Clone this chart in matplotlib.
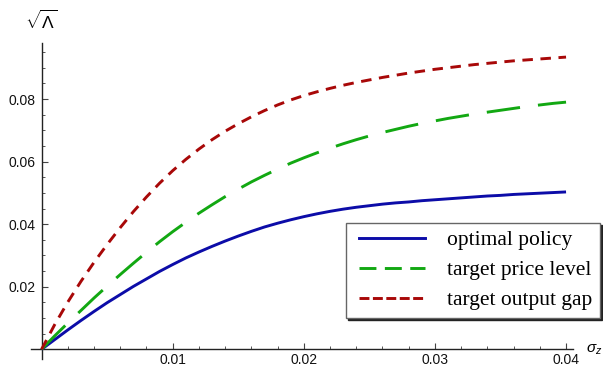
import matplotlib
matplotlib.use("Agg")
import matplotlib.pyplot as plt
from matplotlib.lines import Line2D
from matplotlib.legend_handler import HandlerLine2D
from matplotlib.ticker import MultipleLocator, FixedLocator

plt.rcParams['font.family'] = ['Liberation Sans', 'DejaVu Sans']
plt.rcParams['mathtext.fontset'] = 'custom'
plt.rcParams['mathtext.rm'] = 'Liberation Sans'
plt.rcParams['mathtext.it'] = 'Liberation Sans:italic'
plt.rcParams['mathtext.cal'] = 'Liberation Sans'

# ---- data ----
sigma_z = [0.000, 0.001, 0.002, 0.003, 0.004, 0.005, 0.006, 0.007, 0.008, 0.009,
           0.010, 0.011, 0.012, 0.013, 0.014, 0.015, 0.016, 0.017, 0.018, 0.019,
           0.020, 0.021, 0.022, 0.023, 0.024, 0.025, 0.026, 0.027, 0.028, 0.029,
           0.030, 0.031, 0.032, 0.033, 0.034, 0.035, 0.036, 0.037, 0.038, 0.039, 0.040]
optimal_policy = [0.0, 0.0031, 0.0062, 0.0092, 0.0121, 0.0149, 0.0175, 0.0201, 0.0225, 0.0249,
                  0.0271, 0.0292, 0.0311, 0.0329, 0.0346, 0.0362, 0.0377, 0.0391, 0.0403, 0.0414,
                  0.0424, 0.0433, 0.0441, 0.0448, 0.0454, 0.0459, 0.0464, 0.0468, 0.0471, 0.0475,
                  0.0478, 0.0481, 0.0484, 0.0487, 0.0490, 0.0492, 0.0495, 0.0497, 0.0499, 0.0501, 0.0503]
target_price_level = [0.0, 0.0043, 0.0084, 0.0124, 0.0164, 0.0202, 0.0239, 0.0275, 0.0310, 0.0344,
                      0.0376, 0.0406, 0.0435, 0.0462, 0.0488, 0.0512, 0.0535, 0.0556, 0.0576, 0.0595,
                      0.0612, 0.0628, 0.0643, 0.0657, 0.0670, 0.0682, 0.0693, 0.0703, 0.0713, 0.0722,
                      0.0730, 0.0738, 0.0745, 0.0752, 0.0758, 0.0764, 0.0770, 0.0776, 0.0781, 0.0786, 0.0790]
target_output_gap = [0.0, 0.0079, 0.0151, 0.0217, 0.0278, 0.0335, 0.0389, 0.0440, 0.0487, 0.0531,
                     0.0571, 0.0607, 0.0640, 0.0670, 0.0697, 0.0721, 0.0743, 0.0763, 0.0781, 0.0797,
                     0.0811, 0.0823, 0.0834, 0.0844, 0.0853, 0.0861, 0.0869, 0.0876, 0.0883, 0.0889,
                     0.0895, 0.0900, 0.0905, 0.0910, 0.0914, 0.0918, 0.0922, 0.0925, 0.0928, 0.0931, 0.0934]
series_labels = ["optimal policy", "target price level", "target output gap"]
x_ticks = [0.01, 0.02, 0.03, 0.04]
y_ticks = [0.02, 0.04, 0.06, 0.08]

W, H = 603, 367
fig = plt.figure(figsize=(W / 100, H / 100), dpi=100)

# axes placement in pixels
xmin, xmax = -0.0008, 0.0405
ymin, ymax = -0.003, 0.098
left_px, right_px = 31.1, 572.6
top_px, bot_px = 42.7, 358.7
ax = fig.add_axes([left_px / W, 1 - bot_px / H, (right_px - left_px) / W, (bot_px - top_px) / H])
ax.set_xlim(xmin, xmax)
ax.set_ylim(ymin, ymax)

blue, green, red = '#0c0ca8', '#12a812', '#a80808'
lw = 2.1
ax.plot(sigma_z, optimal_policy, color=blue, lw=lw, solid_capstyle='butt', zorder=3)
ax.plot(sigma_z, target_price_level, color=green, lw=lw, dashes=(11.5, 6.2),
        dash_capstyle='butt', zorder=3)
ax.plot(sigma_z, target_output_gap, color=red, lw=lw, dashes=(3.6, 2.6),
        dash_capstyle='butt', zorder=3)

# Mathematica-style axes through the origin
for s in ['top', 'right']:
    ax.spines[s].set_visible(False)
ax.spines['left'].set_position(('data', 0))
ax.spines['bottom'].set_position(('data', 0))
for s in ['left', 'bottom']:
    ax.spines[s].set_color('#222222')
    ax.spines[s].set_linewidth(1.0)

ax.xaxis.set_major_locator(FixedLocator(x_ticks))
ax.yaxis.set_major_locator(FixedLocator(y_ticks))
ax.xaxis.set_minor_locator(MultipleLocator(0.002))
ax.yaxis.set_minor_locator(MultipleLocator(0.005))
ax.set_xticklabels([f"{v:.2f}" for v in x_ticks])
ax.set_yticklabels([f"{v:.2f}" for v in y_ticks])
ax.tick_params(which='major', direction='in', length=4.3, width=0.8, color='#444444',
               labelsize=10, labelcolor='#111111')
ax.tick_params(which='minor', direction='in', length=2.3, width=0.7, color='#555555')
ax.tick_params(axis='x', which='major', pad=3.0)
ax.tick_params(axis='y', which='major', pad=4.3)

# axis labels
fig.text(41.5 / W, 1 - 20 / H, r'$\sqrt{\Lambda}$', ha='center', va='center', fontsize=12.5)
fig.text(594 / W, 1 - 350 / H, r'$\sigma_z$', ha='center', va='center', fontsize=11)

# legend
handles = [
    Line2D([], [], color=blue, lw=lw),
    Line2D([], [], color=green, lw=lw, dashes=(5.8, 2.9), dash_capstyle='butt'),
    Line2D([], [], color=red, lw=lw, dashes=(3.4, 1.2), dash_capstyle='butt'),
]
leg = fig.legend(handles, series_labels, loc='upper left',
                 bbox_to_anchor=(345.7 / W, 1 - 222.7 / H),
                 bbox_transform=fig.transFigure, borderaxespad=0,
                 prop={'family': 'Liberation Serif', 'size': 15.5},
                 numpoints=2, handler_map={Line2D: HandlerLine2D(marker_pad=0.29)},
                 handlelength=3.64, handletextpad=0.72, borderpad=0.35,
                 labelspacing=0.456, fancybox=False, frameon=True,
                 shadow={'ox': 1.5, 'oy': -1.5, 'color': '#222222', 'alpha': 1.0})
frame = leg.get_frame()
frame.set_edgecolor('#666666')
frame.set_linewidth(1.0)
frame.set_facecolor('white')

fig.savefig('out.png', dpi=100)
